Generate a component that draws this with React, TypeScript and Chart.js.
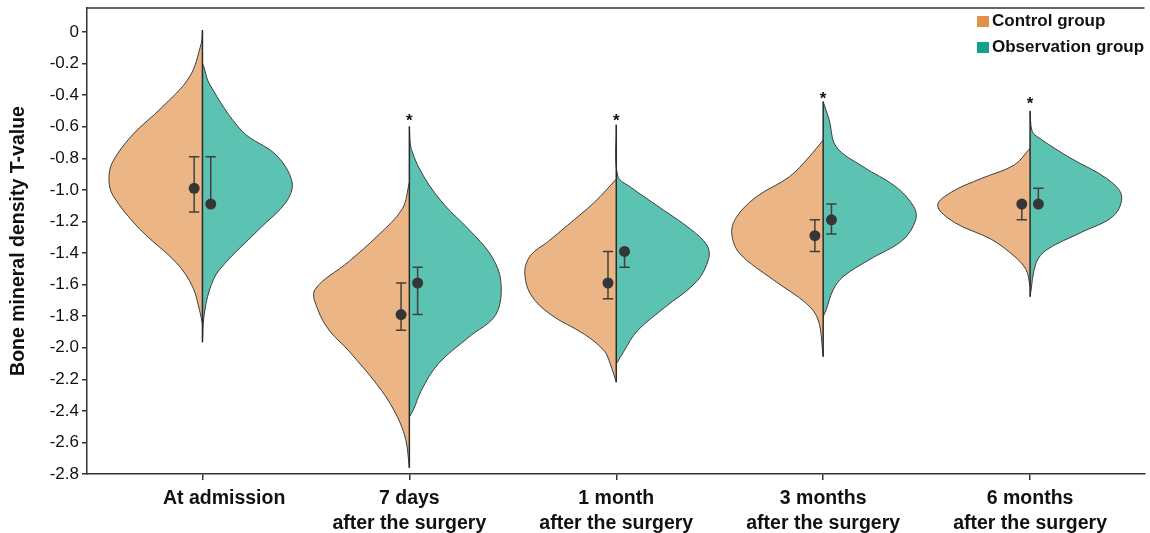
import React, { useEffect, useRef } from 'react';
import { Chart, registerables } from 'chart.js';

Chart.register(...registerables);

// ---------- data ----------
const categoryLabels: string[][] = [
  ['\u00A0\u00A0\u00A0\u00A0\u00A0\u00A0\u00A0\u00A0At admission'],
  ['7 days', 'after the surgery'],
  ['1 month', 'after the surgery'],
  ['3 months', 'after the surgery'],
  ['6 months', 'after the surgery'],
];
const seriesNames = ['Control group', 'Observation group'];
const yTickValues = [0, -0.2, -0.4, -0.6, -0.8, -1.0, -1.2, -1.4, -1.6, -1.8, -2.0, -2.2, -2.4, -2.6, -2.8];

const controlMean = [-0.99, -1.79, -1.59, -1.29, -1.09];
const controlLow = [-1.14, -1.89, -1.69, -1.39, -1.19];
const controlHigh = [-0.79, -1.59, -1.39, -1.19, -1.09];

const observationMean = [-1.09, -1.59, -1.39, -1.19, -1.09];
const observationLow = [-1.09, -1.79, -1.49, -1.28, -1.09];
const observationHigh = [-0.79, -1.49, -1.39, -1.09, -0.99];

// significance markers (T-value where "*" sits), null = none
const significanceY: (number | null)[] = [null, -0.53, -0.535, -0.39, -0.425];

// violin halves: [T-value, half width (density, in category units)]
const controlViolinAdmission = [
  [0.013, 0], [-0.073, 0.006], [-0.286, 0.063], [-0.479, 0.197], [-0.65, 0.337], [-0.82, 0.433],
  [-0.928, 0.452], [-1.035, 0.433], [-1.249, 0.303], [-1.463, 0.125], [-1.613, 0.048], [-1.763, 0.014], [-1.848, 0],
];
const controlViolin7d = [
  [-0.953, 0], [-1.12, 0.034], [-1.288, 0.151], [-1.455, 0.293], [-1.634, 0.457], [-1.76, 0.442],
  [-1.894, 0.385], [-2.02, 0.293], [-2.27, 0.135], [-2.438, 0.058], [-2.584, 0.017], [-2.762, 0],
];
const controlViolin1m = [
  [-0.932, 0], [-1.079, 0.106], [-1.225, 0.236], [-1.33, 0.332], [-1.413, 0.413], [-1.518, 0.442],
  [-1.664, 0.413], [-1.79, 0.317], [-1.915, 0.154], [-2.02, 0.058], [-2.103, 0.029], [-2.218, 0],
];
const controlViolin3m = [
  [-0.684, 0], [-0.79, 0.067], [-0.917, 0.163], [-1.043, 0.322], [-1.17, 0.418], [-1.275, 0.442],
  [-1.402, 0.404], [-1.571, 0.24], [-1.719, 0.082], [-1.824, 0.024], [-2.057, 0],
];
const controlViolin6m = [
  [-0.736, 0], [-0.843, 0.077], [-0.928, 0.236], [-1.014, 0.38], [-1.1, 0.447], [-1.207, 0.365],
  [-1.313, 0.188], [-1.42, 0.077], [-1.506, 0.019], [-1.613, 0],
];

const observationViolinAdmission = [
  [-0.2, 0], [-0.222, 0.007], [-0.33, 0.034], [-0.629, 0.192], [-0.779, 0.356], [-0.95, 0.433],
  [-1.078, 0.404], [-1.249, 0.274], [-1.506, 0.082], [-1.634, 0.034], [-1.805, 0.007], [-1.966, 0],
];
const observationViolin7d = [
  [-0.598, 0], [-0.744, 0.01], [-0.932, 0.077], [-1.1, 0.173], [-1.246, 0.284], [-1.413, 0.394],
  [-1.58, 0.442], [-1.79, 0.418], [-1.936, 0.284], [-2.103, 0.139], [-2.27, 0.058], [-2.396, 0.019], [-2.438, 0],
];
const observationViolin1m = [
  [-0.588, 0], [-0.912, 0.007], [-0.985, 0.072], [-1.1, 0.197], [-1.246, 0.356], [-1.35, 0.438],
  [-1.434, 0.447], [-1.58, 0.389], [-1.748, 0.231], [-1.894, 0.101], [-2.02, 0.038], [-2.103, 0],
];
const observationViolin3m = [
  [-0.441, 0], [-0.557, 0.029], [-0.727, 0.063], [-0.853, 0.192], [-0.98, 0.351], [-1.107, 0.438],
  [-1.191, 0.447], [-1.318, 0.385], [-1.444, 0.221], [-1.55, 0.096], [-1.634, 0.048], [-1.761, 0.014], [-1.803, 0],
];
const observationViolin6m = [
  [-0.5, 0], [-0.629, 0.01], [-0.671, 0.043], [-0.8, 0.197], [-0.928, 0.37], [-1.035, 0.442],
  [-1.164, 0.404], [-1.271, 0.245], [-1.378, 0.082], [-1.463, 0.029], [-1.677, 0],
];

const controlViolins = [controlViolinAdmission, controlViolin7d, controlViolin1m, controlViolin3m, controlViolin6m];
const observationViolins = [observationViolinAdmission, observationViolin7d, observationViolin1m, observationViolin3m, observationViolin6m];

// ---------- styles ----------
const FONT = '"Liberation Sans", Arial, Helvetica, sans-serif';
const controlFill = '#EBB585';
const observationFill = '#5CC2B1';
const controlSwatch = '#E0914A';
const observationSwatch = '#14A089';
const outline = '#3d3d3d';
const axisColor = '#333333';
const markColor = '#363636';
const pointOffset = 0.04;
const capHalf = 0.025;

function buildDatasets() {
  const ds: any[] = [];
  for (let i = 0; i < categoryLabels.length; i++) {
    const c = controlViolins[i];
    const o = observationViolins[i];
    ds.push({
      data: c.map(([v, w]) => ({ x: i - w, y: v })),
      borderColor: outline, borderWidth: 1, backgroundColor: controlFill,
      fill: 'shape', tension: 0.35, pointRadius: 0, order: 4,
    });
    ds.push({
      data: o.map(([v, w]) => ({ x: i + w, y: v })),
      borderColor: outline, borderWidth: 1, backgroundColor: observationFill,
      fill: 'shape', tension: 0.35, pointRadius: 0, order: 4,
    });
    const top = Math.max(c[0][0], o[0][0]);
    const bottom = Math.min(c[c.length - 1][0], o[o.length - 1][0]);
    ds.push({
      data: [{ x: i, y: top }, { x: i, y: bottom }],
      borderColor: '#2a2a2a', borderWidth: 1.5, pointRadius: 0, fill: false, order: 3,
    });
  }
  const groups = [
    { mean: controlMean, low: controlLow, high: controlHigh, dx: -pointOffset },
    { mean: observationMean, low: observationLow, high: observationHigh, dx: pointOffset },
  ];
  for (const g of groups) {
    const segs: any[] = [];
    const pts: any[] = [];
    g.mean.forEach((m, i) => {
      const x = i + g.dx;
      segs.push({ x, y: g.low[i] }, { x, y: g.high[i] }, { x, y: null });
      if (g.low[i] !== m) segs.push({ x: x - capHalf, y: g.low[i] }, { x: x + capHalf, y: g.low[i] }, { x, y: null });
      if (g.high[i] !== m) segs.push({ x: x - capHalf, y: g.high[i] }, { x: x + capHalf, y: g.high[i] }, { x, y: null });
      pts.push({ x, y: m });
    });
    ds.push({
      data: segs, borderColor: '#404040', borderWidth: 1.5, pointRadius: 0, fill: false,
      spanGaps: false, tension: 0, order: 2,
    });
    ds.push({
      data: pts, showLine: false, pointRadius: 5.5, pointBackgroundColor: markColor,
      pointBorderColor: markColor, pointBorderWidth: 0, order: 1,
    });
  }
  return ds;
}

const extrasPlugin = {
  id: 'extras',
  afterDatasetsDraw(chart: any) {
    const { ctx, chartArea, scales } = chart;
    ctx.save();
    ctx.strokeStyle = axisColor;
    ctx.lineWidth = 1.5;
    ctx.beginPath();
    ctx.moveTo(chartArea.left, chartArea.top);
    ctx.lineTo(chartArea.right, chartArea.top);
    ctx.stroke();
    ctx.fillStyle = '#111';
    ctx.font = `bold 17px ${FONT}`;
    ctx.textAlign = 'center';
    ctx.textBaseline = 'alphabetic';
    significanceY.forEach((v, i) => {
      if (v == null) return;
      ctx.fillText('*', scales.x.getPixelForValue(i), scales.y.getPixelForValue(v) + 10);
    });
    ctx.restore();
  },
};

export default function App() {
  const ref = useRef<HTMLCanvasElement | null>(null);
  useEffect(() => {
    if (!ref.current) return;
    const chart = new Chart(ref.current, {
      type: 'line',
      data: { datasets: buildDatasets() },
      options: {
        responsive: false,
        animation: false,
        events: [],
        layout: { padding: { top: 8, right: 0, left: 0, bottom: 0 } },
        plugins: { legend: { display: false }, tooltip: { enabled: false } },
        scales: {
          x: {
            type: 'linear',
            min: -0.558,
            max: 4.553,
            afterBuildTicks: (s: any) => { s.ticks = categoryLabels.map((_, i) => ({ value: i })); },
            afterFit: (s: any) => { s.height = 59; s.paddingLeft = 0; s.paddingRight = 0; },
            ticks: {
              autoSkip: false,
              maxRotation: 0,
              padding: 6,
              color: '#111',
              font: { family: FONT, size: 19.5, weight: 'bold', lineHeight: 1.28 },
              callback: (v: any) => categoryLabels[Math.round(Number(v))] ?? '',
            },
            grid: { display: true, drawOnChartArea: false, drawTicks: true, tickLength: 6, color: axisColor, lineWidth: 1.5 },
            border: { display: true, color: axisColor, width: 1.5 },
          },
          y: {
            type: 'linear',
            min: -2.8,
            max: 0.152,
            afterBuildTicks: (s: any) => { s.ticks = yTickValues.map((v) => ({ value: v })); },
            afterFit: (s: any) => { s.width = 87; s.paddingTop = 0; s.paddingBottom = 0; },
            ticks: {
              padding: 3,
              color: '#111',
              font: { family: FONT, size: 17 },
              callback: (v: any) => (Math.abs(Number(v)) < 1e-9 ? '0' : Number(v).toFixed(1)),
            },
            title: {
              display: true,
              text: 'Bone mineral density T-value',
              color: '#111',
              font: { family: FONT, size: 19.5, weight: 'bold' },
              padding: { top: 7, bottom: 0 },
            },
            grid: { display: true, drawOnChartArea: false, drawTicks: true, tickLength: 5, color: axisColor, lineWidth: 1.5 },
            border: { display: true, color: axisColor, width: 1.5 },
          },
        },
      } as any,
      plugins: [extrasPlugin],
    });
    return () => chart.destroy();
  }, []);

  const legendRow = (color: string, text: string, top: number) => (
    <div style={{ position: 'absolute', left: 977, top, display: 'flex', alignItems: 'center', height: 18 }}>
      <span style={{ display: 'inline-block', width: 12, height: 11, background: color, marginRight: 3 }} />
      <span style={{ fontFamily: FONT, fontWeight: 'bold', fontSize: 17, color: '#111', lineHeight: '18px' }}>{text}</span>
    </div>
  );

  return (
    <div style={{ position: 'absolute', left: 0, top: 0, width: 1150, height: 533, background: '#fff' }}>
      <canvas ref={ref} width={1150} height={533} style={{ display: 'block' }} />
      {legendRow(controlSwatch, seriesNames[0], 12)}
      {legendRow(observationSwatch, seriesNames[1], 38)}
    </div>
  );
}
